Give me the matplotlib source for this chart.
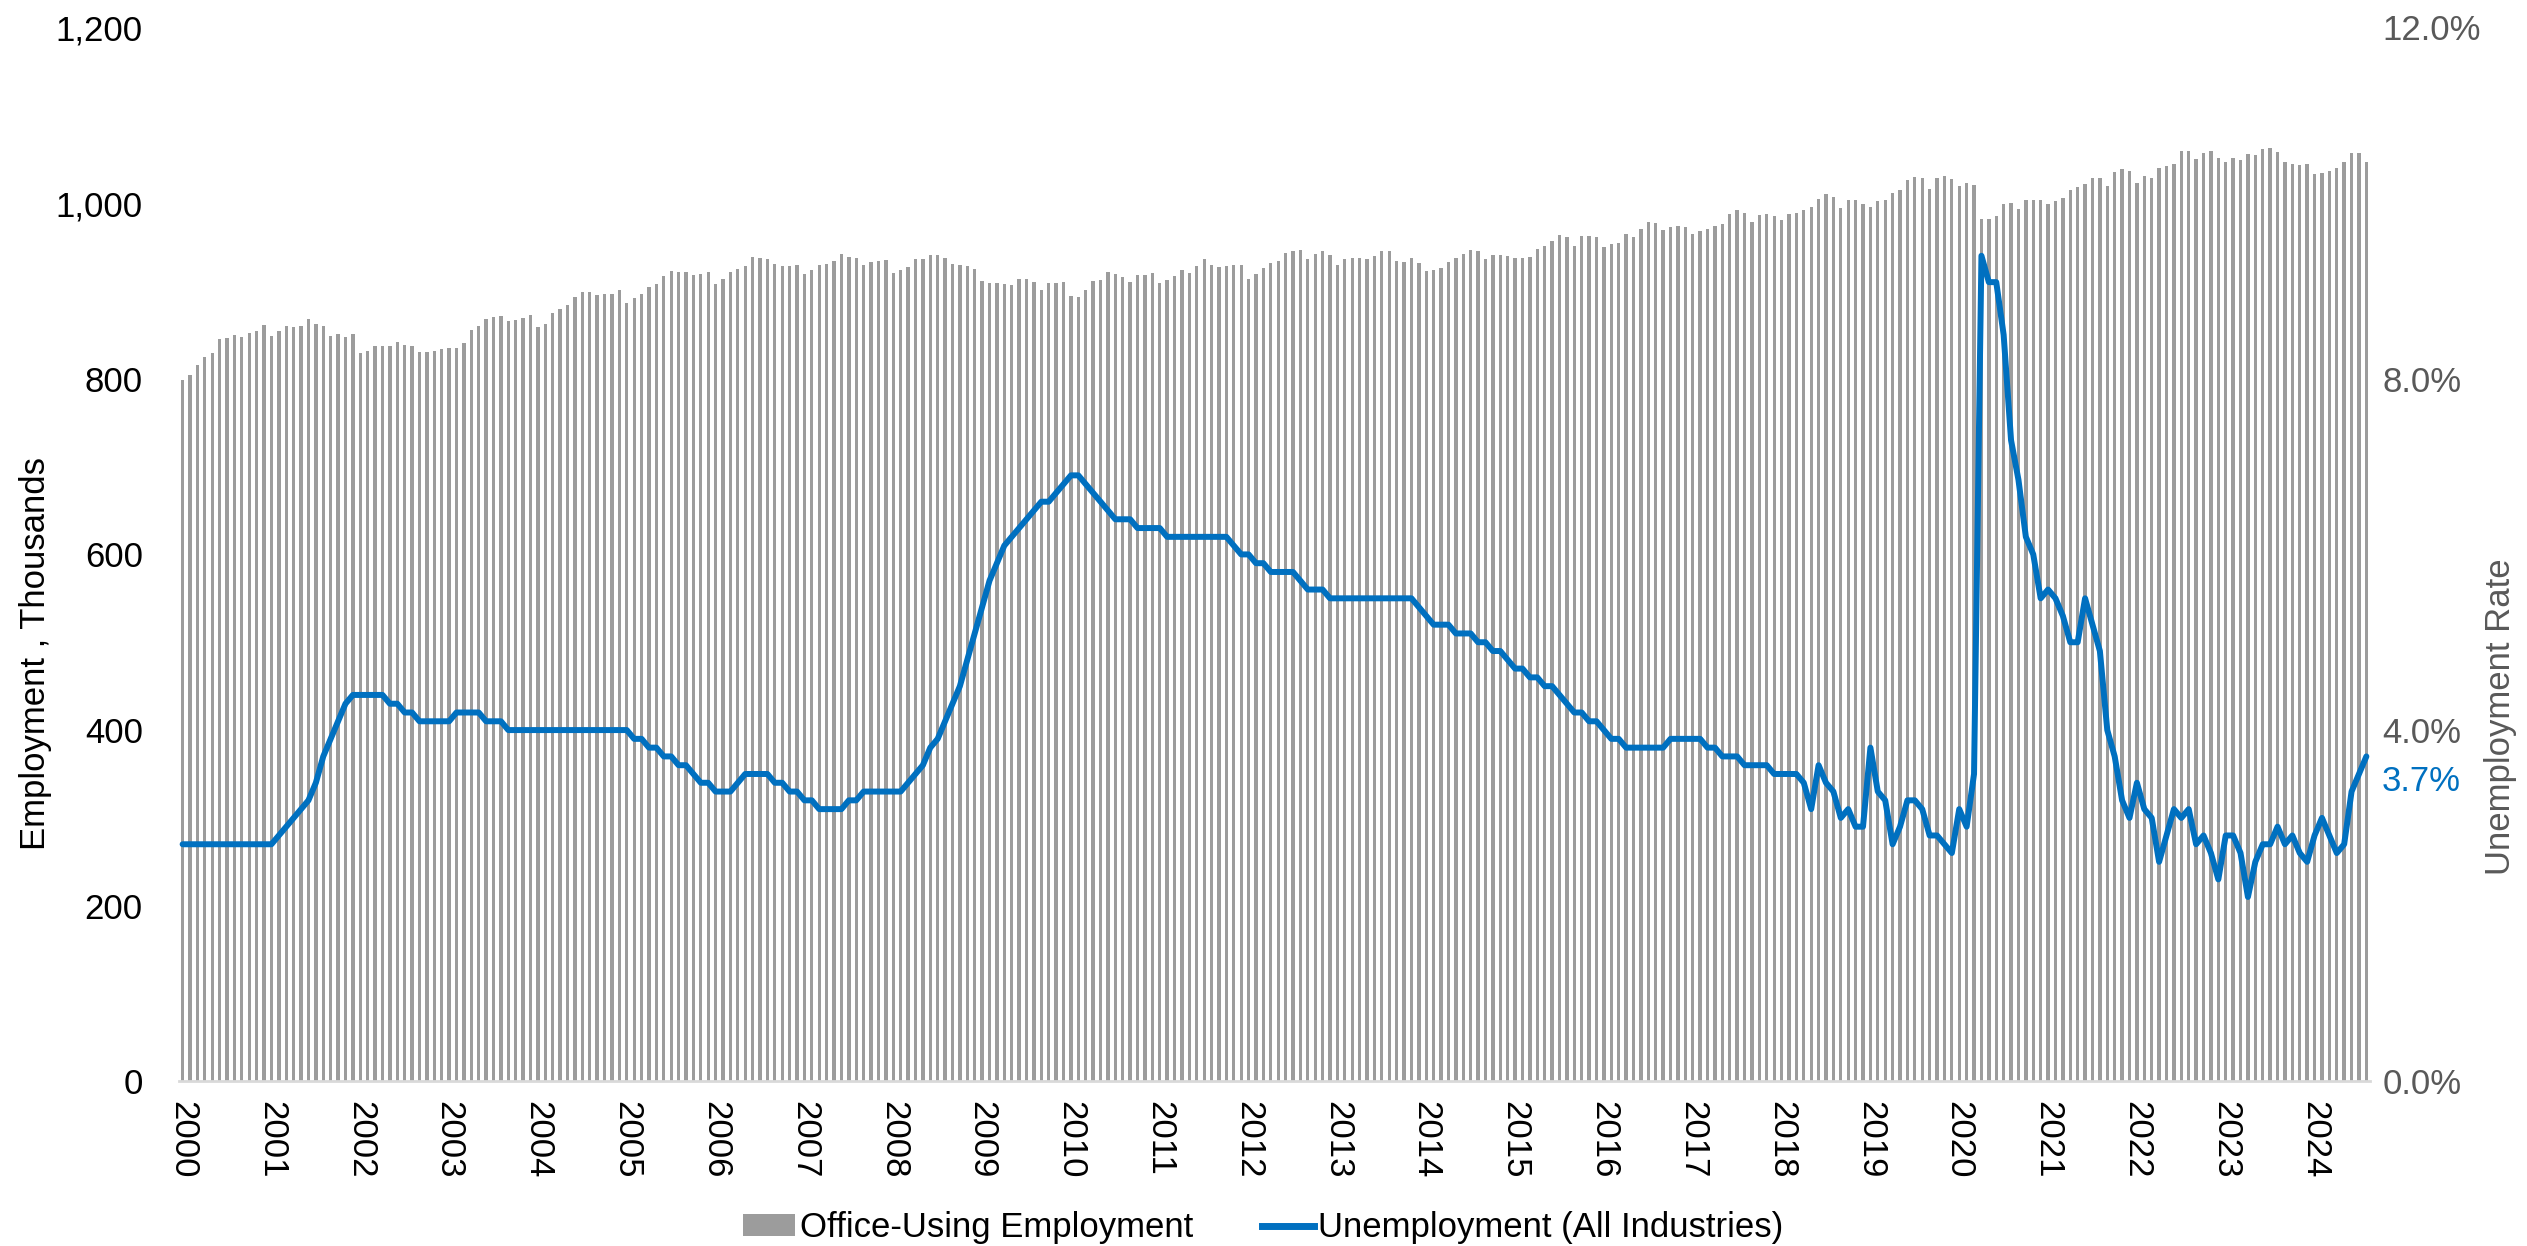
import matplotlib
matplotlib.use("Agg")
import matplotlib.pyplot as plt
import numpy as np
from matplotlib.ticker import FuncFormatter
from matplotlib.lines import Line2D
from matplotlib.patches import Patch

plt.rcParams['font.family'] = ['Liberation Sans Narrow', 'Liberation Sans', 'DejaVu Sans']

years = [str(y) for y in range(2000, 2025)]

# Office-using employment (thousands), monthly Jan 2000 - Aug 2024
employment = [
    799, 804, 816, 825, 829, 845, 846, 850, 848, 852, 854, 861,
    849, 854, 860, 859, 860, 868, 862, 860, 849, 851, 848, 851,
    829, 832, 837, 837, 837, 842, 838, 837, 831, 831, 832, 834,
    835, 835, 841, 855, 860, 868, 870, 871, 866, 867, 869, 873,
    859, 862, 875, 879, 884, 893, 899, 899, 895, 897, 896, 901,
    886, 892, 897, 905, 908, 917, 923, 922, 921, 918, 919, 921,
    908, 914, 922, 925, 928, 939, 937, 936, 931, 928, 928, 930,
    919, 924, 929, 931, 934, 942, 939, 938, 929, 933, 934, 935,
    920, 924, 927, 936, 936, 941, 941, 938, 931, 930, 928, 925,
    911, 909, 909, 908, 907, 914, 913, 910, 901, 909, 909, 910,
    894, 893, 901, 911, 912, 921, 919, 916, 910, 918, 918, 920,
    909, 912, 917, 924, 920, 928, 936, 929, 927, 928, 929, 930,
    914, 919, 926, 932, 934, 943, 945, 947, 936, 942, 945, 941,
    930, 936, 938, 937, 936, 940, 946, 946, 934, 933, 937, 932,
    923, 924, 926, 933, 937, 942, 947, 945, 936, 941, 941, 940,
    937, 938, 939, 948, 951, 957, 964, 961, 951, 962, 962, 961,
    950, 953, 955, 965, 961, 971, 979, 977, 969, 973, 974, 973,
    965, 968, 970, 974, 976, 988, 992, 989, 979, 986, 988, 985,
    981, 987, 989, 992, 995, 1005, 1010, 1007, 994, 1003, 1003, 999,
    996, 1002, 1004, 1012, 1015, 1026, 1030, 1028, 1016, 1028, 1031, 1027,
    1020, 1023, 1021, 982, 982, 985, 999, 1000, 993, 1003, 1003, 1003,
    999, 1002, 1006, 1015, 1018, 1022, 1029, 1028, 1019, 1035, 1039, 1036,
    1023, 1031, 1028, 1040, 1042, 1045, 1059, 1059, 1050, 1057, 1059, 1051,
    1047, 1051, 1049, 1056, 1055, 1062, 1063, 1058, 1047, 1045, 1043, 1044,
    1033, 1034, 1037, 1040, 1047, 1057, 1057, 1047,
]

# Unemployment rate (%), all industries
unemployment = [
    2.7, 2.7, 2.7, 2.7, 2.7, 2.7, 2.7, 2.7, 2.7, 2.7, 2.7, 2.7,
    2.7, 2.8, 2.9, 3.0, 3.1, 3.2, 3.4, 3.7, 3.9, 4.1, 4.3, 4.4,
    4.4, 4.4, 4.4, 4.4, 4.3, 4.3, 4.2, 4.2, 4.1, 4.1, 4.1, 4.1,
    4.1, 4.2, 4.2, 4.2, 4.2, 4.1, 4.1, 4.1, 4.0, 4.0, 4.0, 4.0,
    4.0, 4.0, 4.0, 4.0, 4.0, 4.0, 4.0, 4.0, 4.0, 4.0, 4.0, 4.0,
    4.0, 3.9, 3.9, 3.8, 3.8, 3.7, 3.7, 3.6, 3.6, 3.5, 3.4, 3.4,
    3.3, 3.3, 3.3, 3.4, 3.5, 3.5, 3.5, 3.5, 3.4, 3.4, 3.3, 3.3,
    3.2, 3.2, 3.1, 3.1, 3.1, 3.1, 3.2, 3.2, 3.3, 3.3, 3.3, 3.3,
    3.3, 3.3, 3.4, 3.5, 3.6, 3.8, 3.9, 4.1, 4.3, 4.5, 4.8, 5.1,
    5.4, 5.7, 5.9, 6.1, 6.2, 6.3, 6.4, 6.5, 6.6, 6.6, 6.7, 6.8,
    6.9, 6.9, 6.8, 6.7, 6.6, 6.5, 6.4, 6.4, 6.4, 6.3, 6.3, 6.3,
    6.3, 6.2, 6.2, 6.2, 6.2, 6.2, 6.2, 6.2, 6.2, 6.2, 6.1, 6.0,
    6.0, 5.9, 5.9, 5.8, 5.8, 5.8, 5.8, 5.7, 5.6, 5.6, 5.6, 5.5,
    5.5, 5.5, 5.5, 5.5, 5.5, 5.5, 5.5, 5.5, 5.5, 5.5, 5.5, 5.4,
    5.3, 5.2, 5.2, 5.2, 5.1, 5.1, 5.1, 5.0, 5.0, 4.9, 4.9, 4.8,
    4.7, 4.7, 4.6, 4.6, 4.5, 4.5, 4.4, 4.3, 4.2, 4.2, 4.1, 4.1,
    4.0, 3.9, 3.9, 3.8, 3.8, 3.8, 3.8, 3.8, 3.8, 3.9, 3.9, 3.9,
    3.9, 3.9, 3.8, 3.8, 3.7, 3.7, 3.7, 3.6, 3.6, 3.6, 3.6, 3.5,
    3.5, 3.5, 3.5, 3.4, 3.1, 3.6, 3.4, 3.3, 3.0, 3.1, 2.9, 2.9,
    3.8, 3.3, 3.2, 2.7, 2.9, 3.2, 3.2, 3.1, 2.8, 2.8, 2.7, 2.6,
    3.1, 2.9, 3.5, 9.4, 9.1, 9.1, 8.5, 7.3, 6.85, 6.2, 6.0, 5.5,
    5.6, 5.5, 5.3, 5.0, 5.0, 5.5, 5.2, 4.9, 4.0, 3.7, 3.2, 3.0,
    3.4, 3.1, 3.0, 2.5, 2.8, 3.1, 3.0, 3.1, 2.7, 2.8, 2.6, 2.3,
    2.8, 2.8, 2.6, 2.1, 2.5, 2.7, 2.7, 2.9, 2.7, 2.8, 2.6, 2.5,
    2.8, 3.0, 2.8, 2.6, 2.7, 3.3, 3.5, 3.7,
]

left_ticks = [0, 200, 400, 600, 800, 1000, 1200]
right_ticks = [0, 4, 8, 12]

bar_color = '#9C9C9C'
line_color = '#0070C0'
fs = 25

n = len(employment)
x = np.arange(n)

fig = plt.figure(figsize=(25.27, 12.46), dpi=100)
ax = fig.add_axes([0.0708, 0.1321, 0.8671, 0.8459])
ax2 = ax.twinx()

ax.bar(x, employment, width=0.45, color=bar_color, zorder=2)
ax.set_xlim(-0.5, n - 0.5)
ax.set_ylim(0, 1200)
ax.set_yticks(left_ticks)
ax.yaxis.set_major_formatter(FuncFormatter(lambda v, p: f"{int(v):,}"))
ax.set_xticks(np.arange(0, n, 12))
ax.set_xticklabels(years[:len(np.arange(0, n, 12))], rotation=-90, ha='center', va='top')
ax.tick_params(axis='x', length=0, pad=14, labelsize=fs, labelcolor='black')
ax.tick_params(axis='y', length=0, pad=26, labelsize=fs, labelcolor='black')
for s in ['top', 'right', 'left']:
    ax.spines[s].set_visible(False)
ax.spines['bottom'].set_color('#D9D9D9')
ax.spines['bottom'].set_linewidth(2)
ax.set_ylabel('Employment , Thousands', fontsize=fs, color='black')
ax.yaxis.set_label_coords(-0.058, 0.406)

ax2.plot(x, unemployment, color=line_color, lw=4.3, solid_joinstyle='round',
         solid_capstyle='round', zorder=3)
ax2.set_ylim(0, 12)
ax2.set_yticks(right_ticks)
ax2.yaxis.set_major_formatter(FuncFormatter(lambda v, p: f"{v:.1f}%"))
ax2.tick_params(axis='y', length=0, pad=9, labelsize=fs, labelcolor='#595959')
for s in ['top', 'right', 'left', 'bottom']:
    ax2.spines[s].set_visible(False)
ax2.set_ylabel('Unemployment Rate', fontsize=fs, color='#595959', rotation=90)
ax2.yaxis.set_label_coords(1.052, 0.346)

ax2.annotate(f"{unemployment[-1]:.1f}%", xy=(x[-1], unemployment[-1]),
             xytext=(11, -18), textcoords='offset points',
             ha='left', va='center', fontsize=fs, color=line_color)

handles = [Patch(facecolor=bar_color, edgecolor='none'),
           Line2D([0], [0], color=line_color, lw=5)]
fig.legend(handles, ['Office-Using Employment', 'Unemployment (All Industries)'],
           loc='center', bbox_to_anchor=(0.5, 0.0145), ncol=2, frameon=False,
           fontsize=fs, handlelength=1.5, handleheight=0.6, handletextpad=0.12,
           columnspacing=2.0)

fig.savefig('out.png', dpi=100)
